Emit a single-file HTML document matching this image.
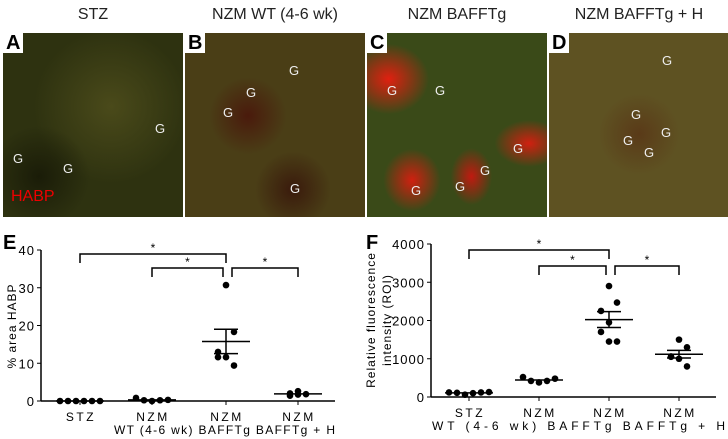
<!DOCTYPE html>
<html><head><meta charset="utf-8"><style>
body{margin:0;width:728px;height:439px;background:#fff;position:relative;overflow:hidden;font-family:"Liberation Sans",sans-serif}
.t{position:absolute;top:6px;font-size:16px;color:#222;text-align:center;width:180px}
.p{position:absolute;top:33px;width:180px;height:184px;overflow:hidden}
.l{position:absolute;left:0;top:0;background:#fff;font-weight:bold;font-size:20px;padding:0 3px;line-height:20px}
.g{position:absolute;color:#eee;font-size:13px}
</style></head><body>
<div class="t" style="left:3px">STZ</div>
<div class="t" style="left:185px">NZM WT (4-6 wk)</div>
<div class="t" style="left:367px">NZM BAFFTg</div>
<div class="t" style="left:549px">NZM BAFFTg + H</div>

<div class="p" style="left:3px;background:radial-gradient(circle at 20% 78%,#1a1c08 0,transparent 25%),radial-gradient(circle at 60% 40%,#4a4a1a 0,transparent 50%),#2e3210">
<div class="l">A</div>
<span class="g" style="left:10px;top:118px">G</span><span class="g" style="left:60px;top:128px">G</span><span class="g" style="left:152px;top:88px">G</span>
<span style="position:absolute;left:8px;top:155px;color:#e00;font-size:16px">HABP</span></div>
<div class="p" style="left:185px;background:radial-gradient(circle at 35% 45%,#4a1a0c 0,transparent 25%),radial-gradient(circle at 60% 85%,#3a1a0c 0,transparent 20%),#4a3e16">
<div class="l">B</div>
<span class="g" style="left:104px;top:30px">G</span><span class="g" style="left:61px;top:52px">G</span><span class="g" style="left:38px;top:72px">G</span><span class="g" style="left:105px;top:148px">G</span></div>
<div class="p" style="left:367px;background:radial-gradient(ellipse at 12% 25%,#e02010 0,transparent 18%),radial-gradient(ellipse at 90% 60%,#d02010 0,transparent 15%),radial-gradient(ellipse at 58% 78%,#c01a10 0,transparent 14%),radial-gradient(ellipse at 25% 80%,#d02010 0,transparent 15%),#3a4a18">
<div class="l">C</div>
<span class="g" style="left:20px;top:50px">G</span><span class="g" style="left:68px;top:50px">G</span><span class="g" style="left:113px;top:130px">G</span><span class="g" style="left:146px;top:108px">G</span><span class="g" style="left:88px;top:146px">G</span><span class="g" style="left:44px;top:150px">G</span></div>
<div class="p" style="left:549px;background:radial-gradient(circle at 50% 55%,#5a3a18 0,transparent 30%),#5e5222">
<div class="l">D</div>
<span class="g" style="left:113px;top:20px">G</span><span class="g" style="left:82px;top:74px">G</span><span class="g" style="left:112px;top:92px">G</span><span class="g" style="left:74px;top:100px">G</span><span class="g" style="left:95px;top:112px">G</span></div>

<svg id="s" width="728" height="439" style="position:absolute;left:0;top:0" font-family="Liberation Sans, sans-serif"></svg>
<script>
const cats=["STZ","NZM","NZM","NZM"];
const subLine="WT (4-6 wk) BAFFTg BAFFTg + H";
const eVals=[[0,0,0,0,0,0],[0.8,0.2,0,0.2,0.3],[30.7,18.3,13,11.6,11.6,9.4],[2.6,1.8,1.4,1.7,2.0]];
const eTicks=[0,10,20,30,40];
const fVals=[[120,110,60,100,120,130],[520,420,380,420,480],[2900,2470,2250,1950,1700,1450,1450],[1500,1300,1050,1000,1060,800]];
const fTicks=[0,1000,2000,3000,4000];
const svg=document.getElementById('s');
function el(t,a,txt){const e=document.createElementNS('http://www.w3.org/2000/svg',t);for(const k in a)e.setAttribute(k,a[k]);if(txt!==undefined)e.textContent=txt;svg.appendChild(e);return e;}
function chart(o){
 const y=v=>o.y0-(v-o.min)/(o.max-o.min)*(o.y0-o.y1);
 const x=i=>o.cx[i];
 let a=el('line',{x1:o.ax,y1:o.y1,x2:o.ax,y2:o.y0,stroke:'#000','stroke-width':1.5});
 
 a=el('line',{x1:o.ax,y1:o.y0,x2:o.xe,y2:o.y0,stroke:'#000','stroke-width':1.5});
 
 o.ticks.forEach(t=>{el('line',{x1:o.ax-4,y1:y(t),x2:o.ax,y2:y(t),stroke:'#000'});
  const tx=el('text',{x:o.ax-6,y:y(t)+5,'font-size':13,'text-anchor':'end','letter-spacing':1},t);
  });
 const sl=el('text',{x:o.sx,y:o.y0+33,'font-size':12,textLength:o.se-o.sx,lengthAdjust:'spacing'},subLine);
 
 o.vals.forEach((vs,i)=>{
  el('line',{x1:x(i),y1:o.y0,x2:x(i),y2:o.y0+4,stroke:'#000'});
  const c=el('text',{x:x(i)+1,y:o.y0+20,'font-size':12,'text-anchor':'middle','letter-spacing':2.5},cats[i]);
  
  const n=vs.length,m=vs.reduce((p,q)=>p+q,0)/n;
  const sd=Math.sqrt(vs.reduce((p,q)=>p+(q-m)**2,0)/(n-1)),se=sd/Math.sqrt(n);
  let l=el('line',{x1:x(i)-24,y1:y(m),x2:x(i)+24,y2:y(m),stroke:'#000','stroke-width':1.5});
  
  if(se*(o.y0-o.y1)/(o.max-o.min)>3){
   el('line',{x1:x(i),y1:y(m-se),x2:x(i),y2:y(m+se),stroke:'#000','stroke-width':1.5});
   el('line',{x1:x(i)-12,y1:y(m+se),x2:x(i)+12,y2:y(m+se),stroke:'#000','stroke-width':1.5});
   el('line',{x1:x(i)-12,y1:y(m-se),x2:x(i)+12,y2:y(m-se),stroke:'#000','stroke-width':1.5});}
  vs.forEach((v,j)=>{
   const off=(i==0||i==1)?(j-(n-1)/2)*8:((j%2?1:-1)*(j%3==0?0:8)*(j==0?0:1));
   const d=el('circle',{cx:x(i)+off,cy:y(v),r:3.3,fill:'#000'});
   });
 });
 [[0,2,o.b1,9],[1,2,o.b2,9],[2,3,o.b2,9]].forEach(([p,q,t,h],k)=>{
  const x1=x(p)+(k==2?6:0),x2=x(q)-(k==1?3:0);
  const b=el('path',{d:`M${x1},${t+h}V${t}H${x2}V${t+h}`,fill:'none',stroke:'#000','stroke-width':1.5});
  
  const s=el('text',{x:(x1+x2)/2,y:t-2,'font-size':12,'text-anchor':'middle'},'*');
  });
 const L=el('text',{x:o.lx,y:o.ly,'font-size':20,'font-weight':'bold'},o.letter);
 
}
chart({id:'e',vals:eVals,ticks:eTicks,min:0,max:40,ax:41,xe:335,sx:114,se:335,y0:401,y1:250,cx:[80,152,226,298],b1:254,b2:268,letter:'E',lx:3,ly:249});
chart({id:'f',vals:fVals,ticks:fTicks,min:0,max:4000,ax:431,xe:716,sx:432,se:725,y0:397,y1:244,cx:[469,539,609,679],b1:250,b2:266,letter:'F',lx:366,ly:249});
let t=el('text',{transform:'translate(16,326) rotate(-90)','font-size':12,'text-anchor':'middle','letter-spacing':1},'% area HABP');

t=el('text',{transform:'translate(375,320) rotate(-90)','font-size':12,'text-anchor':'middle','letter-spacing':1},'Relative fluorescence');

t=el('text',{transform:'translate(391,320) rotate(-90)','font-size':12,'text-anchor':'middle','letter-spacing':1},'intensity (ROI)');

</script>
</body></html>
